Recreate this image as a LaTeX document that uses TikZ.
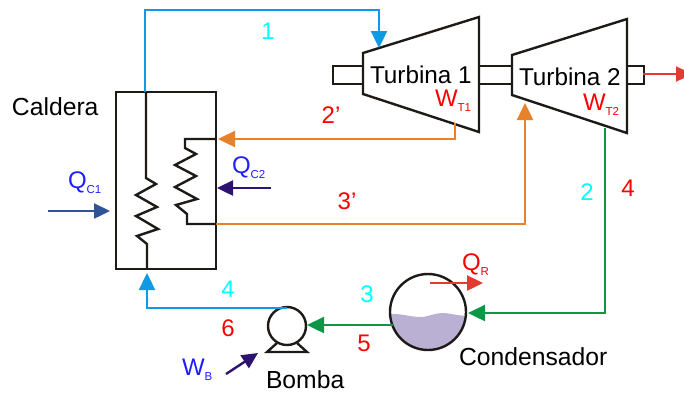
\documentclass[tikz,border=0pt]{standalone}
\usepackage{fontspec}
\setmainfont{Liberation Sans}
\usetikzlibrary{arrows.meta}
\definecolor{cblue}{HTML}{0F9BE3}
\definecolor{corange}{HTML}{E8822A}
\definecolor{cgreen}{HTML}{0E9647}
\definecolor{cred}{HTML}{E23B30}
\definecolor{cindigo}{HTML}{2E1272}
\definecolor{cnavy}{HTML}{2F5597}
\definecolor{cliquid}{HTML}{B9B0D3}
\definecolor{cink}{HTML}{1E1A18}
\definecolor{tcyan}{RGB}{0,255,255}
\definecolor{tred}{RGB}{255,0,0}
\definecolor{tblue}{RGB}{30,30,255}
\newcommand{\bigtxt}[1]{{\fontsize{24.7}{24.7}\selectfont #1}}
\newcommand{\symb}[2]{{\fontsize{24}{24}\selectfont #1}\raisebox{-5pt}{\fontsize{11.5}{11.5}\selectfont #2}}
\tikzset{
  x=1pt,y=-1pt,
  lbl/.style={inner sep=0pt,outer sep=0pt,font=\fontsize{24}{24}\selectfont},
  txt/.style={inner sep=0pt,outer sep=0pt,anchor=base west,text=black},
  sym/.style={inner sep=0pt,outer sep=0pt,anchor=base west},
  eq/.style={draw=cink,line width=2.4pt,line join=miter},
  pipe/.style={line width=2.4pt,-{Triangle[length=17pt,width=16pt]}},
  heat/.style={line width=2.4pt,-{Triangle[length=16pt,width=15pt]}},
}
\begin{document}
\begin{tikzpicture}
\useasboundingbox (0,0) rectangle (684,392);
\clip (0,0) rectangle (684,392);
% shafts
\node[eq,minimum width=30pt,minimum height=18pt,inner sep=0pt] (shaftA) at (348,75) {};
\node[eq,minimum width=33pt,minimum height=18pt,inner sep=0pt] (shaftB) at (495.5,75) {};
\node[eq,minimum width=17pt,minimum height=18pt,inner sep=0pt] (shaftC) at (635.5,75) {};
% turbines
\coordinate (t1a) at (363,53); \coordinate (t1b) at (479,17);
\coordinate (t1c) at (479,132); \coordinate (t1d) at (363,94);
\coordinate (t2a) at (512,55); \coordinate (t2b) at (627,19);
\coordinate (t2c) at (627,133); \coordinate (t2d) at (512,95);
\draw[eq,fill=white] (t1a) -- (t1b) -- (t1c) -- (t1d) -- cycle;
\draw[eq,fill=white] (t2a) -- (t2b) -- (t2c) -- (t2d) -- cycle;
% boiler
\node[eq,minimum width=100pt,minimum height=177pt,inner sep=0pt] (boiler) at (166,180.5) {};
\coordinate (coilAtop) at (146,92); \coordinate (coilAbot) at (147,269);
\coordinate (coilBtop) at (216,139); \coordinate (coilBbot) at (216,224);
\draw[eq] (coilAtop) -- (146,178) -- (156,184) -- (136,195) -- (157,207) -- (136,216) -- (158,229) -- (137,236) -- (147,244) -- (coilAbot);
\draw[eq] (coilBtop) -- (185,139) -- (185,148) -- (196,154) -- (175,165) -- (196,176) -- (175,187) -- (197,199) -- (176,205) -- (187,214) -- (187,224) -- (coilBbot);
% pump
\node[draw=cink,line width=2.4pt,circle,minimum size=38pt,inner sep=0pt] (pump) at (287,326) {};
\coordinate (pbl) at (267,352); \coordinate (pbr) at (307,352);
\coordinate (pul) at (277,343); \coordinate (pur) at (297,343);
\draw[eq] (pul) -- (pbl) -- (pbr) -- (pur);
% condenser
\node[circle,minimum size=76pt,inner sep=0pt] (cond) at (428,312) {};
\begin{scope}
\clip (428,312) circle[radius=38];
\fill[cliquid] (385,314) -- (395,314) .. controls (405,314.5) and (412,317) .. (420,317) .. controls (428,317) and (435,313) .. (442,313) .. controls (450,313) and (458,316) .. (470,316) -- (470,355) -- (385,355) -- cycle;
\end{scope}
\draw[draw=cink,line width=2.4pt] (428,312) circle[radius=38];
% connectors
\coordinate (c1a) at (145,10); \coordinate (c1b) at (379,10); \coordinate (t1in) at (379,48);
\draw[pipe,cblue] (coilAtop -| c1a) -- (c1a) -- (c1b) -- (t1in);
\coordinate (t1out) at (455,123); \coordinate (c2a) at (455,139);
\draw[pipe,corange] (t1out) -- (c2a) -- ([xshift=2pt]coilBtop);
\coordinate (c3a) at (525,224); \coordinate (t2in) at (525,103);
\draw[pipe,corange] (coilBbot) -- (c3a) -- (t2in);
\coordinate (t2out) at (605,128); \coordinate (c4a) at (605,313); \coordinate (condin) at (468,313);
\draw[pipe,cgreen] (t2out) -- (c4a) -- (condin);
\coordinate (condout) at (393,325); \coordinate (pumpin) at (307,325);
\draw[pipe,cgreen] (condout) -- (pumpin);
\coordinate (pumpout) at (287,308); \coordinate (c6a) at (147,308); \coordinate (boilin) at (147,273);
\draw[pipe,cblue] (pumpout) -- (c6a) -- (boilin);
% heat / work arrows
\coordinate (qc1a) at (48,211); \coordinate (qc1b) at (110,211);
\draw[heat,cnavy] (qc1a) -- (qc1b);
\coordinate (qc2a) at (271,188); \coordinate (qc2b) at (217,188);
\draw[heat,cindigo] (qc2a) -- (qc2b);
\coordinate (qra) at (430,283); \coordinate (qrb) at (483,283);
\draw[heat,cred] (qra) -- (qrb);
\coordinate (wba) at (226,374); \coordinate (wbb) at (258,353);
\draw[heat,cindigo] (wba) -- (wbb);
\coordinate (wta) at (643,74); \coordinate (wtb) at (692,74);
\draw[heat,cred] (wta) -- (wtb);
% labels
\node[txt] (lcal) at (12,115) {\bigtxt{Caldera}};
\node[txt] (lt1) at (370,83) {\fontsize{24.3}{24.3}\selectfont Turbina 1};
\node[txt] (lt2) at (519,85) {\fontsize{24.3}{24.3}\selectfont Turbina 2};
\node[txt] (lcond) at (459,365) {\bigtxt{Condensador}};
\node[txt] (lbom) at (266,388) {\bigtxt{Bomba}};
\node[sym,text=tred] (lwt1) at (435,106) {\symb{W}{T1}};
\node[sym,text=tred] (lwt2) at (583,110) {\symb{W}{T2}};
\node[sym,text=tblue] (lqc1) at (68,188) {\symb{Q}{C1}};
\node[sym,text=tblue] (lqc2) at (232,173) {\symb{Q}{C2}};
\node[sym,text=tred] (lqr) at (462,270) {\symb{Q}{R}};
\node[sym,text=tblue] (lwb) at (182,375) {\symb{W}{B}};
\node[lbl,text=tcyan] (n1) at (268,31) {1};
\node[lbl,text=tred] (n2p) at (331,115) {2’};
\node[lbl,text=tred] (n3p) at (347,201) {3’};
\node[lbl,text=tcyan] (n2) at (587,192) {2};
\node[lbl,text=tred] (n4r) at (628,188) {4};
\node[lbl,text=tcyan] (n4c) at (228,289) {4};
\node[lbl,text=tred] (n6) at (228,328) {6};
\node[lbl,text=tcyan] (n3) at (367,294) {3};
\node[lbl,text=tred] (n5) at (364,343) {5};
\end{tikzpicture}
\end{document}
